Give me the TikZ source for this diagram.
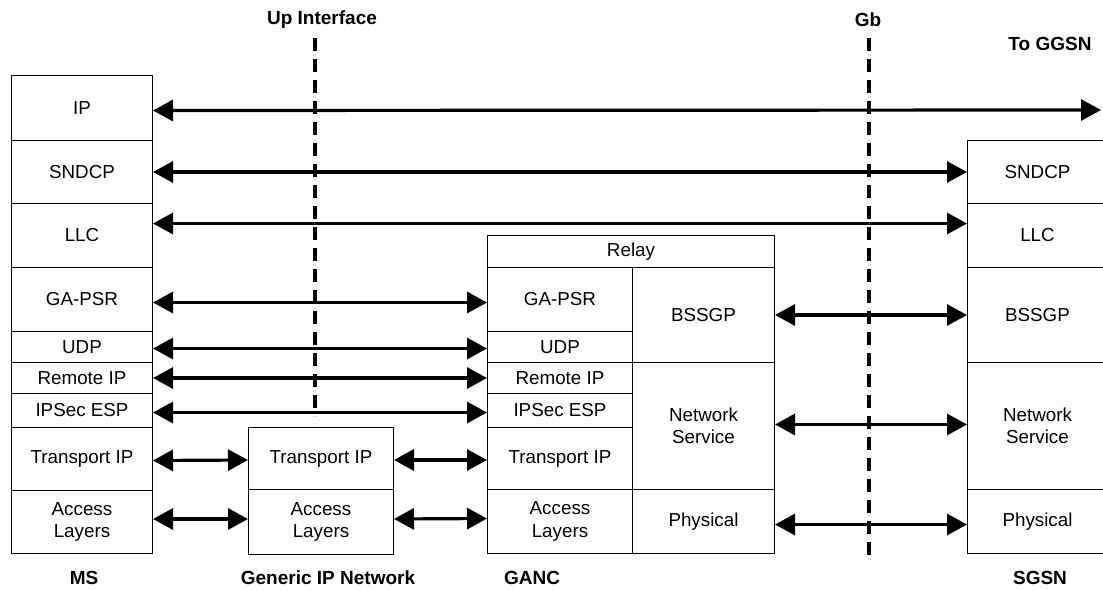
\documentclass[tikz,border=0pt]{standalone}
\usepackage{fontspec}
\setmainfont{Liberation Sans}
\usetikzlibrary{arrows.meta}
\tikzset{
  cell/.style={draw, line width=1pt, rectangle, anchor=north west, inner sep=0pt, align=center,
    font=\fontsize{18.8}{22.5}\selectfont},
  lbl/.style={font=\fontsize{19}{22}\selectfont\bfseries, inner sep=0pt},
  dbl/.style={line width=3.2pt, {Triangle[length=20pt,width=21pt]}-{Triangle[length=20pt,width=21pt]}},
  iface/.style={line width=3.5pt, dash pattern=on 13pt off 8pt}
}
\begin{document}
\begin{tikzpicture}[x=1pt,y=-1pt]
\useasboundingbox (0,0) rectangle (1103,589);
% MS
\node[cell, minimum width=141, minimum height=65] (mip) at (11,75) {IP};
\node[cell, minimum width=141, minimum height=63] (msn) at (11,140) {SNDCP};
\node[cell, minimum width=141, minimum height=64] (mllc) at (11,203) {LLC};
\node[cell, minimum width=141, minimum height=64] (mga) at (11,267) {GA-PSR};
\node[cell, minimum width=141, minimum height=31] (mudp) at (11,331) {UDP};
\node[cell, minimum width=141, minimum height=31] (mrip) at (11,362) {Remote IP};
\node[cell, minimum width=141, minimum height=34] (mesp) at (11,393) {IPSec ESP};
\node[cell, minimum width=141, minimum height=63] (mtip) at (11,427) {Transport IP};
\node[cell, minimum width=141, minimum height=63] (macc) at (11,490) {Access\\Layers};
% Generic IP network
\node[cell, minimum width=145, minimum height=62] (gtip) at (248,427) {Transport IP};
\node[cell, minimum width=145, minimum height=65] (gacc) at (248,489) {Access\\Layers};
% GANC
\node[cell, minimum width=287, minimum height=32] (relay) at (487,235) {Relay};
\node[cell, minimum width=145, minimum height=64] (nga) at (487,267) {GA-PSR};
\node[cell, minimum width=145, minimum height=31] (nudp) at (487,331) {UDP};
\node[cell, minimum width=145, minimum height=31] (nrip) at (487,362) {Remote IP};
\node[cell, minimum width=145, minimum height=34] (nesp) at (487,393) {IPSec ESP};
\node[cell, minimum width=145, minimum height=62] (ntip) at (487,427) {Transport IP};
\node[cell, minimum width=145, minimum height=64] (nacc) at (487,489) {Access\\Layers};
\node[cell, minimum width=142, minimum height=95] (nbss) at (632,267) {BSSGP};
\node[cell, minimum width=142, minimum height=127] (nns) at (632,362) {Network\\Service};
\node[cell, minimum width=142, minimum height=64] (nphy) at (632,489) {Physical};
% SGSN
\node[cell, minimum width=140, minimum height=63] (ssn) at (967,140) {SNDCP};
\node[cell, minimum width=140, minimum height=64] (sllc) at (967,203) {LLC};
\node[cell, minimum width=140, minimum height=95] (sbss) at (967,267) {BSSGP};
\node[cell, minimum width=140, minimum height=127] (sns) at (967,362) {Network\\Service};
\node[cell, minimum width=140, minimum height=64] (sphy) at (967,489) {Physical};
% interfaces
\coordinate (uptop) at (315,38);
\coordinate (upbot) at (315,416);
\coordinate (gbtop) at (869,38);
\coordinate (gbbot) at (869,557);
\draw[iface] (uptop) -- (upbot);
\draw[iface] (gbtop) -- (gbbot);
% labels
\node[lbl] (lup) at (322,20) {Up Interface};
\node[lbl] (lgb) at (868,20) {Gb};
\node[lbl] (lggsn) at (1050,44) {To GGSN};
\node[lbl] (lms) at (84,578) {MS};
\node[lbl] (lgen) at (328,578) {Generic IP Network};
\node[lbl] (lganc) at (532,578) {GANC};
\node[lbl] (lsgsn) at (1040,578) {SGSN};
% arrows
\coordinate (ggsn) at (1101,110);
\draw[dbl] ([yshift=-2.5pt]mip.east) -- (ggsn);
\draw[dbl] (msn.east) -- (ssn.west);
\draw[dbl] ([yshift=12pt]mllc.east) -- ([yshift=12pt]sllc.west);
\draw[dbl] ([yshift=-3pt]mga.east) -- ([yshift=-3pt]nga.west);
\draw[dbl] ([yshift=-1.5pt]mudp.east) -- ([yshift=-1.5pt]nudp.west);
\draw[dbl] (mrip.east) -- (nrip.west);
\draw[dbl] ([yshift=-2pt]mesp.east) -- ([yshift=-2pt]nesp.west);
\draw[dbl] ([yshift=-1.5pt]mtip.east) -- ([yshift=-1.5pt]gtip.west);
\draw[dbl] ([yshift=-1.5pt]gtip.east) -- ([yshift=-1.5pt]ntip.west);
\draw[dbl] ([yshift=3pt]macc.east) -- ([yshift=3pt]gacc.west);
\draw[dbl] ([yshift=3pt]gacc.east) -- ([yshift=3pt]nacc.west);
\draw[dbl] (nbss.east) -- (sbss.west);
\draw[dbl] ([yshift=1.5pt]nns.east) -- ([yshift=1.5pt]sns.west);
\draw[dbl] ([yshift=-3pt]nphy.east) -- ([yshift=-3pt]sphy.west);
\end{tikzpicture}
\end{document}
